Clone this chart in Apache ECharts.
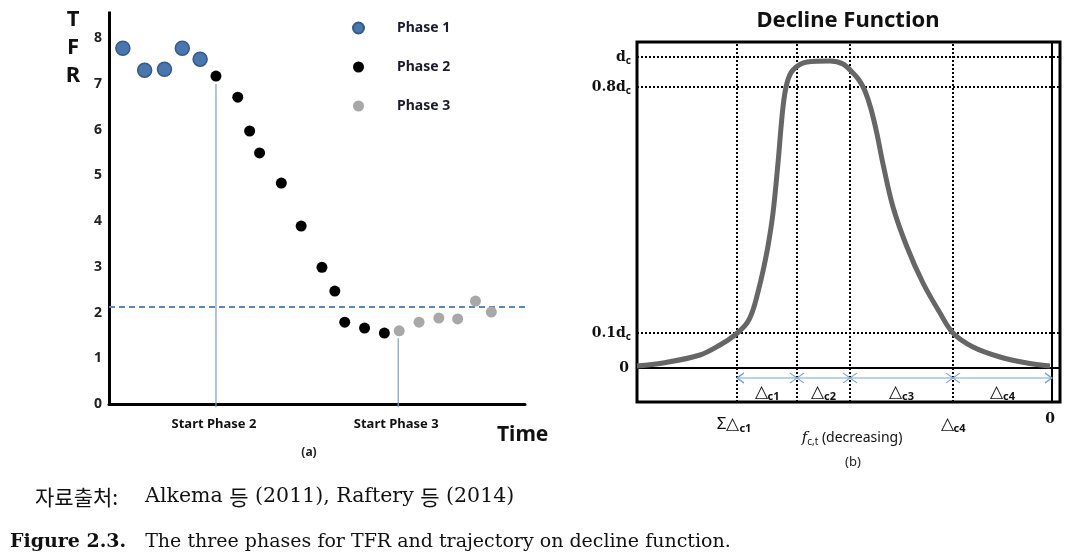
<!DOCTYPE html>
<html><head><meta charset="utf-8">
<script src="https://cdn.jsdelivr.net/npm/echarts@6/dist/echarts.min.js"></script>
<style>html,body{margin:0;padding:0;background:#fff;}#c{width:1085px;height:558px;}</style>
</head><body><div id="c"></div>
<script>
// ---------- Panel (a): TFR phases ----------
const phase1X = [0.7, 1.8, 2.8, 3.7, 4.6];
const phase1Y = [7.78, 7.30, 7.32, 7.78, 7.54];
const phase2X = [5.4, 6.5, 7.1, 7.6, 8.7, 9.7, 10.75, 11.4, 11.9, 12.9, 13.9];
const phase2Y = [7.17, 6.71, 5.97, 5.49, 4.83, 3.89, 2.99, 2.47, 1.79, 1.66, 1.55];
const phase3X = [14.65, 15.65, 16.65, 17.6, 18.5, 19.3];
const phase3Y = [1.60, 1.79, 1.88, 1.86, 2.25, 2.01];
const replacementLevel = 2.12;
const phaseStartX = [5.4, 14.6];
const phaseStartTop = [7.0, 1.44];
const phaseStartLabels = ['Start Phase 2', 'Start Phase 3'];
const legendNames = ['Phase 1', 'Phase 2', 'Phase 3'];
const timeMax = 21;
const tfrMax = 8.55;

// ---------- Panel (b): decline function ----------
const curveX = [0, 26, 63, 83, 98, 110, 116, 121, 126, 131, 136, 141, 146, 150, 156, 170, 193, 206, 216, 222, 228, 234, 240, 246, 256, 270, 286, 303, 316, 336, 363, 390, 413];
const curveY = [2, 5, 13, 23, 33, 45, 58, 76, 97, 122, 155, 205, 261, 285, 298, 306, 307, 304, 295, 288, 277, 259, 234, 204, 161, 121, 85, 55, 35, 21, 11, 5, 2];
const boundaryX = [100, 160, 213, 316, 415];      // ΣΔc1, ..., Δc4, 0
const levelY = [311, 281, 35];                      // d_c, 0.8 d_c, 0.1 d_c
const levelMain = ['d', '0.8d', '0.1d'];
const levelSub = ['c', 'c', 'c'];
const deltaSubs = ['c1', 'c2', 'c3', 'c4'];
const arrowY = -10;
const deltaLabelY = -24;
const fMin = 0, fMax = 423, dMin = -34, dMax = 326;

const SANS = '"Noto Sans", "Open Sans", sans-serif';
const SERIF = '"DejaVu Serif", "Liberation Serif", serif';
const CJK = '"Noto Sans CJK KR", sans-serif';

const pts = (xs, ys) => xs.map((x, i) => [x, ys[i]]);
const chart = echarts.init(document.getElementById('c'));

const series = [
  {name: 'Phase 1', type: 'scatter', xAxisIndex: 0, yAxisIndex: 0, data: pts(phase1X, phase1Y),
   symbolSize: 14, itemStyle: {color: '#4a76ae', borderColor: '#35598a', borderWidth: 1.5, opacity: 1}, z: 5},
  {name: 'Phase 2', type: 'scatter', xAxisIndex: 0, yAxisIndex: 0, data: pts(phase2X, phase2Y),
   symbolSize: 11, itemStyle: {color: '#000', opacity: 1}, z: 5},
  {name: 'Phase 3', type: 'scatter', xAxisIndex: 0, yAxisIndex: 0, data: pts(phase3X, phase3Y),
   symbolSize: 11, itemStyle: {color: '#a8a8a8', opacity: 1}, z: 5},
  {name: 'replacement', type: 'line', xAxisIndex: 0, yAxisIndex: 0,
   data: [[0, replacementLevel], [timeMax, replacementLevel]], symbol: 'none',
   lineStyle: {color: '#5b86c0', width: 2, type: [6, 4]}, z: 2}
];
phaseStartX.forEach((x, i) => series.push({
  type: 'line', xAxisIndex: 0, yAxisIndex: 0, clip: false, symbol: 'none',
  data: [[x, phaseStartTop[i]], [x, -0.07]], lineStyle: {color: '#7a9dcb', width: 1.2}, z: 2
}));

// panel b
levelY.forEach(y => series.push({
  type: 'line', xAxisIndex: 1, yAxisIndex: 1, symbol: 'none',
  data: [[fMin, y], [fMax, y]], lineStyle: {color: '#000', width: 2, type: [2, 2]}, z: 2
}));
boundaryX.slice(0, 4).forEach(x => series.push({
  type: 'line', xAxisIndex: 1, yAxisIndex: 1, symbol: 'none',
  data: [[x, dMin], [x, dMax]], lineStyle: {color: '#000', width: 2, type: [2, 2]}, z: 2
}));
series.push({type: 'line', xAxisIndex: 1, yAxisIndex: 1, symbol: 'none',
  data: [[fMin, 0], [fMax, 0]], lineStyle: {color: '#000', width: 2}, z: 3});
series.push({type: 'line', xAxisIndex: 1, yAxisIndex: 1, symbol: 'none',
  data: [[boundaryX[4], dMin], [boundaryX[4], dMax]], lineStyle: {color: '#000', width: 2}, z: 3});
series.push({type: 'line', xAxisIndex: 1, yAxisIndex: 1, symbol: 'none', smooth: 0.35,
  data: pts(curveX, curveY), lineStyle: {color: '#666', width: 5}, z: 6});
const leftHead = 'path://M7,0 L0,5 L7,10';
const rightHead = 'path://M0,0 L7,5 L0,10';
const bothHead = 'path://M0,0 L7,5 L0,10 M14,0 L7,5 L14,10';
const last = boundaryX.length - 1;
series.push({type: 'line', xAxisIndex: 1, yAxisIndex: 1, showSymbol: true,
  data: boundaryX.map((x, i) => ({
    value: [x, arrowY],
    symbol: i === 0 ? leftHead : (i === last ? rightHead : bothHead),
    symbolSize: i === 0 || i === last ? [7, 10] : [14, 10],
    symbolOffset: i === 0 ? [3.5, 0] : (i === last ? [-3.5, 0] : [0, 0])
  })),
  lineStyle: {color: '#7ba3d0', width: 1.2},
  itemStyle: {color: 'rgba(0,0,0,0)', borderColor: '#7ba3d0', borderWidth: 1.2}, z: 4});

chart.setOption({
  animation: false,
  backgroundColor: '#fff',
  legend: {
    orient: 'vertical', left: 347, top: 16, itemWidth: 11, itemHeight: 11, itemGap: 25,
    selectedMode: false, data: legendNames,
    formatter: n => '{t|' + n + '}',
    textStyle: {rich: {t: {fontFamily: SANS, fontSize: 14, fontWeight: 'bold', color: '#1b1b2b',
      padding: [0, 0, 0, 28], lineHeight: 14}}}
  },
  grid: [
    {left: 109, top: 13, width: 416, bottom: 558 - 404, show: false},
    {left: 637, top: 42, width: 423, height: 360, show: true, borderColor: '#000', borderWidth: 3, backgroundColor: 'transparent'}
  ],
  xAxis: [
    {type: 'value', gridIndex: 0, min: 0, max: timeMax, offset: 3,
     axisLine: {show: true, lineStyle: {color: '#000', width: 3}}, axisTick: {show: false},
     axisLabel: {show: false}, splitLine: {show: false}},
    {type: 'value', gridIndex: 1, min: fMin, max: fMax, show: false}
  ],
  yAxis: [
    {type: 'value', gridIndex: 0, min: 0, max: tfrMax, interval: 1,
     axisLine: {show: true, lineStyle: {color: '#000', width: 3, cap: 'square'}}, axisTick: {show: false},
     axisLabel: {margin: 7, fontFamily: SANS, fontSize: 14, fontWeight: 'bold', color: '#222',
       formatter: v => (v <= 8 ? String(v) : '')},
     splitLine: {show: false}},
    {type: 'value', gridIndex: 1, min: dMin, max: dMax, show: false}
  ],
  series: series
});

// ---------- annotations placed through the axes ----------
const pa = p => chart.convertToPixel({xAxisIndex: 0, yAxisIndex: 0}, p);
const pb = p => chart.convertToPixel({xAxisIndex: 1, yAxisIndex: 1}, p);
const g = [];
const txt = (x, y, text, style) => g.push({type: 'text', x: x, y: y, silent: true,
  style: Object.assign({text: text, fill: '#111'}, style)});

// Panel a texts
txt(73, 6, 'T\nF\nR', {font: 'bold 22px ' + SANS, align: 'center', verticalAlign: 'top', lineHeight: 28});
phaseStartX.forEach((x, i) => {
  const p = pa([x, 0]);
  txt(p[0] - 2, p[1] + 20, phaseStartLabels[i], {font: 'bold 13px ' + SANS, align: 'center', verticalAlign: 'middle'});
});
const tEnd = pa([timeMax, 0]);
txt(tEnd[0] - 28, tEnd[1] + 31, 'Time', {font: 'bold 21px ' + SANS, align: 'left', verticalAlign: 'middle'});
txt(309, 453, '(a)', {font: 'bold 12px ' + SANS, align: 'center', verticalAlign: 'middle', fill: '#222'});

// Panel b texts
txt(848, 21, 'Decline Function', {font: 'bold 22px ' + SANS, align: 'center', verticalAlign: 'middle'});
const levRich = {
  m: {fontFamily: SERIF, fontSize: 14, fontWeight: 'bold', fill: '#111'},
  s: {fontFamily: SANS, fontSize: 10, fontWeight: 'bold', fill: '#111', padding: [8, 0, 0, 0]},
  d: {fontFamily: SANS, fontSize: 17, fill: '#111'},
  t: {fontFamily: SANS, fontSize: 11, fontWeight: 'bold', fill: '#111', padding: [9, 0, 0, 0]},
  f: {fontFamily: SERIF, fontSize: 15, fontStyle: 'italic', fill: '#111'},
  fs: {fontFamily: SANS, fontSize: 10, fill: '#111', padding: [8, 0, 0, 0]},
  r: {fontFamily: SANS, fontSize: 14, fill: '#111'}
};
levelY.forEach((y, i) => {
  const p = pb([fMin, y]);
  txt(p[0] - 6, p[1], '{m|' + levelMain[i] + '}{s|' + levelSub[i] + '}', {align: 'right', verticalAlign: 'middle', rich: levRich});
});
const z0 = pb([fMin, 0]);
txt(z0[0] - 8, z0[1], '{m|0}', {align: 'right', verticalAlign: 'middle', rich: levRich});
deltaSubs.forEach((s, i) => {
  const p = pb([(boundaryX[i] + boundaryX[i + 1]) / 2, deltaLabelY]);
  txt(p[0], p[1], '{d|△}{t|' + s + '}', {align: 'center', verticalAlign: 'middle', rich: levRich});
});
const b0 = pb([boundaryX[0], dMin]);
txt(b0[0] - 3, b0[1] + 22, '{d|Σ△}{t|' + deltaSubs[0] + '}', {align: 'center', verticalAlign: 'middle', rich: levRich});
const b3 = pb([boundaryX[3], dMin]);
txt(b3[0], b3[1] + 22, '{d|△}{t|' + deltaSubs[3] + '}', {align: 'center', verticalAlign: 'middle', rich: levRich});
const bEnd = pb([curveX[curveX.length - 1], dMin]);
txt(bEnd[0], bEnd[1] + 17, '{m|0}', {align: 'center', verticalAlign: 'middle', rich: levRich});
txt(852, 438, '{f|f}{fs|c,t}{r| (decreasing)}', {align: 'center', verticalAlign: 'middle', rich: levRich});
txt(853, 462, '(b)', {font: '13px ' + SANS, align: 'center', verticalAlign: 'middle', fill: '#222'});

// Captions
txt(35, 497, '{k|자료출처:}{a|Alkema }{k|등}{r| (2011), Raftery }{k|등}{r| (2014)}', {
  align: 'left', verticalAlign: 'middle',
  rich: {k: {fontFamily: CJK, fontSize: 21, fill: '#111'},
         a: {fontFamily: SERIF, fontSize: 20.5, fill: '#111', padding: [0, 0, 0, 27]},
         r: {fontFamily: SERIF, fontSize: 20.5, fill: '#111'}}
});
txt(10, 542, '{b|Figure 2.3.}{r|The three phases for TFR and trajectory on decline function.}', {
  align: 'left', verticalAlign: 'middle',
  rich: {b: {fontFamily: SERIF, fontSize: 19, fontWeight: 'bold', fill: '#111'},
         r: {fontFamily: SERIF, fontSize: 19, fill: '#111', padding: [0, 0, 0, 19]}}
});

chart.setOption({graphic: g});
</script></body></html>
